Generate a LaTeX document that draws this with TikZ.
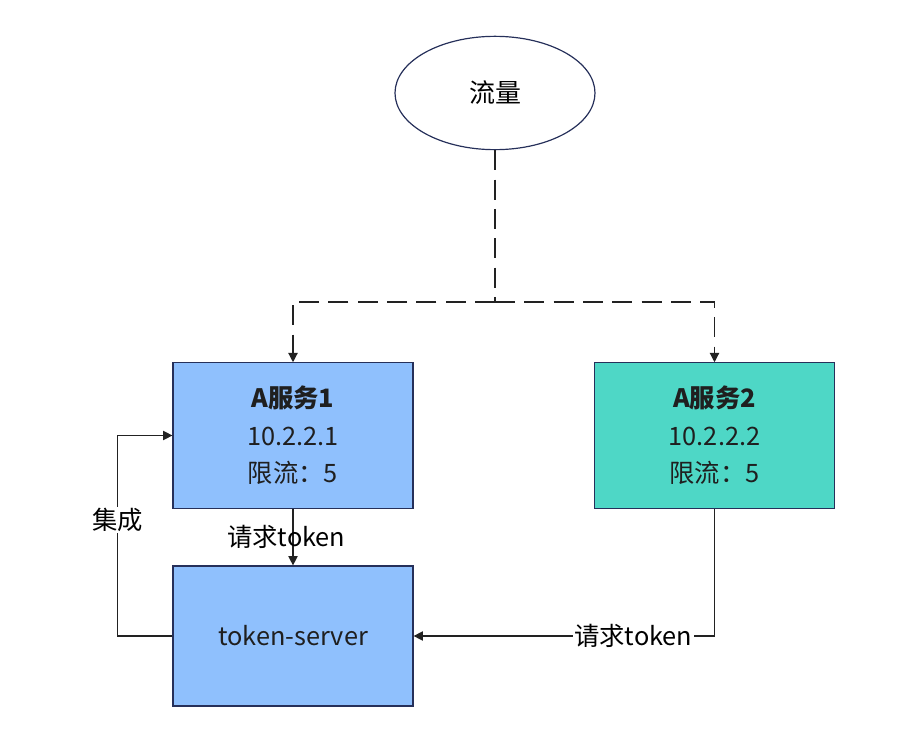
\documentclass[tikz,border=0pt]{standalone}
\usepackage{fontspec}
\setmainfont{Noto Sans CJK SC}
\usetikzlibrary{arrows.meta,shapes.geometric}

\definecolor{svcblue}{HTML}{8FC0FD}
\definecolor{svcteal}{HTML}{4ED7C6}
\definecolor{edgenavy}{HTML}{26305A}
\definecolor{linegray}{HTML}{222222}

\tikzset{
  svcbox/.style={draw=edgenavy, line width=.9pt, minimum width=180pt, minimum height=109pt,
    align=center, font=\fontsize{19}{28}\selectfont, text=black!88},
  flownode/.style={ellipse, draw=edgenavy, line width=.9pt, minimum width=150pt, minimum height=85pt,
    font=\fontsize{19.5}{22}\selectfont},
  link/.style={draw=linegray, line width=.9pt, -{Triangle[width=7pt,length=7pt]}},
  flowdash/.style={link, dash pattern=on 15pt off 7pt},
  linklabel/.style={font=\fontsize{19}{22}\selectfont, inner sep=1pt}
}

\begin{document}
\begin{tikzpicture}[x=0.75pt, y=-0.75pt]
\useasboundingbox (0,0) rectangle (900,742);
\node[flownode] (flow) at (495,93) {流量};
\node[svcbox, fill=svcblue] (svc1) at (293,435.5) {\textbf{A服务1}\\10.2.2.1\\限流：5};
\node[svcbox, fill=svcteal] (svc2) at (714.5,435.5) {\textbf{A服务2}\\10.2.2.2\\限流：5};
\node[svcbox, fill=svcblue, minimum height=105pt] (server) at (293,636) {token-server};
\coordinate (split) at (495,302);
\draw[flowdash, -] (flow.south) -- (split);
\draw[flowdash] (split) -| (svc1.north);
\draw[flowdash] (split) -| (svc2.north);
\draw[link] (svc1.south) -- (server.north) node[linklabel, midway, xshift=-5pt] {请求token};
\draw[link] (svc2.south) |- (server.east) node[linklabel, pos=0.635, fill=white] {请求token};
\draw[link] (server.west) -- ++(-55,0) |- (svc1.west) node[linklabel, pos=0.29, fill=white] {集成};
\end{tikzpicture}
\end{document}
